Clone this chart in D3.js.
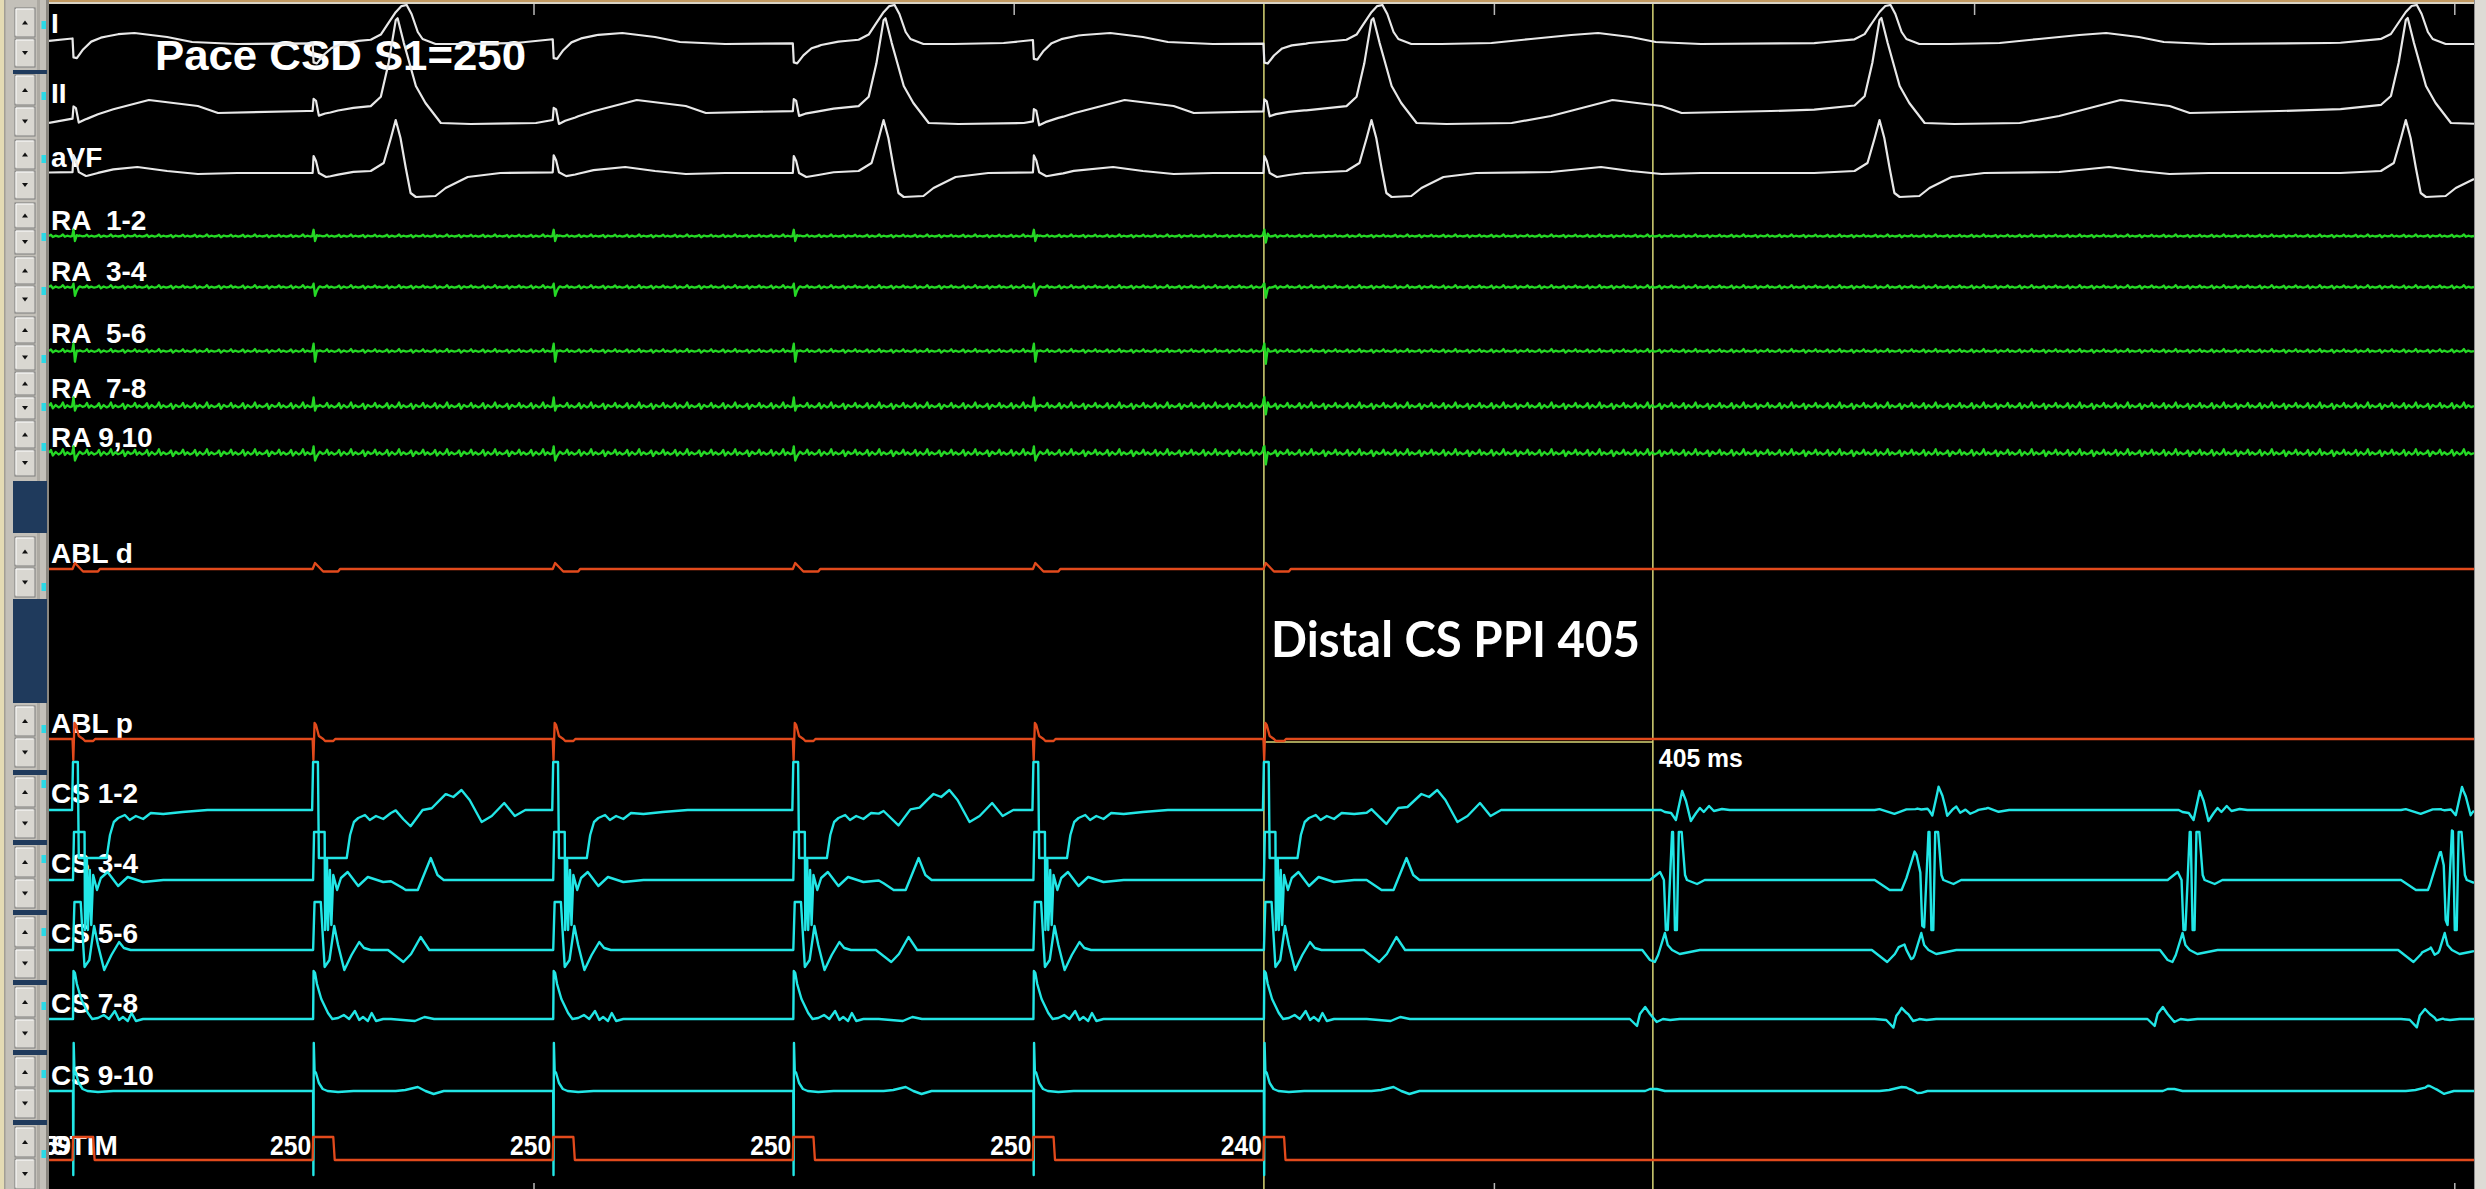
<!DOCTYPE html>
<html>
<head>
<meta charset="utf-8">
<title>Pace CSD S1=250 — Distal CS PPI 405</title>
<script src="https://cdn.jsdelivr.net/npm/d3@7"></script>
<style>
  html, body { margin: 0; padding: 0; background: #000; overflow: hidden; }
  svg { display: block; }
  svg text { white-space: pre; }
</style>
</head>
<body>
<svg id="ep" width="2486" height="1189"></svg>
<script>
// ------------------------------------------------------------------
// Recording data (times in ms, amplitudes in mV at 100 px/mV display gain)
// ------------------------------------------------------------------
const channels = ["I", "II", "aVF", "RA  1-2", "RA  3-4", "RA  5-6", "RA  7-8", "RA 9,10",
                  "ABL d", "ABL p", "CS 1-2", "CS 3-4", "CS 5-6", "CS 7-8", "CS 9-10", "STIM"];

const windowMs = [495, 3020];                 // visible sweep
const firstStim = 520;                        // first S1 pulse
const stimIntervals = [250, 250, 250, 250, 240];
const firstStimLabel = "59";
const qrsTimes = [348, 856, 1364, 1872, 2401, 2949];     // aVF R-peak
const cs12FarFieldGain = [1, 1, 1, 1, 0.3, 0.3];
const tachyTimes = [2188, 2455, 2727, 3000];             // return cycles (CS 3-4 local)
const ppi = 405;
const halfSecondTicks = [1000, 1500, 2000, 2500, 3000];
const secondTicks = [1000, 2000, 3000];

// Surface ECG complexes, relative to the QRS
const leadI_QRS = [[-68,0],[-26,0.03],[-15.5,0.08],[-8.5,0.18],[0,0.30],[6,0.36],[11.5,0.37],[16.5,0.28],[23,0.10],[28,0.03],[41.5,-0.02],[73,-0.02],[125,-0.01],[166,0.03],[208,0.07],[236,0.09],[270,0.05],[296,0],[343,-0.02],[468,-0.01],[520,0]];
const leadII_QRS = [[-68,0],[-26,0.03],[-15.5,0.12],[-7.5,0.45],[0,0.88],[2,0.90],[8.5,0.65],[21,0.22],[31,0.05],[47,-0.15],[78,-0.16],[146,-0.15],[187,-0.08],[251,0.08],[302,0.02],[323,-0.05],[416,-0.03],[520,0]];
const aVF_QRS = [[-68,0],[-26,0.02],[-12.5,0.10],[-5,0.35],[0,0.53],[5,0.35],[10.5,0.05],[15.5,-0.20],[21,-0.24],[41.5,-0.23],[52,-0.15],[75,-0.04],[109,0],[187,0.01],[239,0.06],[270,0.02],[302,-0.01],[343,0]];

// Pacing artefacts, relative to each stimulus
const leadI_pace = [[-0.5,0],[0.5,-0.19],[4,-0.2],[10.5,-0.12],[19,-0.05],[29,-0.02],[47,0]];
const leadII_pace = [[-0.5,0],[0.5,0.12],[3,0.1],[6,-0.05],[12.5,-0.03],[26,-0.01],[42,0]];
const aVF_pace = [[-0.5,0],[0.5,0.17],[3,0.12],[6,0],[13.5,-0.04],[26,-0.02],[42,0]];
const ra12_pace = [[-1,0],[0.5,0.06],[2,-0.06],[4,0.02],[6,0]];
const ra34_pace = [[-1,0],[0.5,0.03],[2,-0.10],[4,-0.02],[6,0]];
const ra56_pace = [[-1,0],[0.5,0.07],[2,-0.12],[4,0.02],[6,0]];
const ra78_pace = [[-1,0],[0.5,0.08],[2,-0.07],[4,0.03],[6,0]];
const ra910_pace = [[-1,0],[0.5,0.06],[2,-0.10],[4,0],[6,0]];
const ablD_pace = [[-0.5,0],[2,0.06],[4,0.04],[8,0],[10.5,-0.025],[26,-0.025],[28,0]];
const ablP_pace = [[-0.5,0],[0.3,-0.21],[1.5,0.16],[3,0.14],[6,0.03],[10.5,0],[12.5,-0.02],[21,-0.02],[23,0]];
const stimPulse = [[-0.5,0],[0,0.23],[21,0.23],[22.5,0]];

// Coronary sinus: paced captures
const cs12_paced = [[-1,0],[0,0.48],[5,0.48],[6,-0.48],[35,-0.48],[38.5,-0.25],[42.5,-0.12],[47,-0.08],[54,-0.05],[59,-0.1],[65.5,-0.06],[73,-0.09],[81,-0.03],[94,-0.04],[114,-0.02],[140,0]];
const cs34_paced = [[-1,0],[0,0],[1,0.48],[12,0.48],[12.5,-0.5],[14.5,0.2],[15.5,-0.5],[17.5,0.1],[19,-0.45],[21,0.05],[25,-0.1],[29,0.02],[36,0.08],[47,-0.06],[57,0.03],[73,-0.02],[94,0]];
const cs56_paced = [[-1,0],[0,0],[1.5,0.48],[8,0.48],[12,-0.17],[17,-0.1],[22,0.24],[26,0.05],[32.5,-0.2],[40,-0.05],[48,0.08],[53,0.02],[60,0]];
const cs78_paced = [[-1,0],[0,0],[0.5,0.48],[2,0.46],[4,0.35],[8.5,0.2],[15.5,0.06],[20,0],[26,0.01],[32,0.04],[37.5,0],[43.5,0.08],[48,-0.01],[52,0.02],[57,-0.02],[61,0.06],[65.5,-0.02],[73,0]];
const cs910_paced = [[-1,0],[0,0],[0.3,-0.84],[0.7,0.48],[1.5,0.2],[3,0.18],[6,0.08],[10,0.02],[15,0],[26,-0.01],[42,0]];

// Coronary sinus: return-cycle electrograms
const cs12_tachy = [[-14.5,0],[-10.5,-0.02],[-4,-0.03],[1,-0.1],[7.5,0.19],[11.5,0.09],[16.5,-0.11],[22,-0.03],[26,0.02],[30,-0.02],[35.5,0.04],[40.5,-0.01],[49,0.01],[57,0]];
const cs34_tachy = [[-26,0],[-15.5,0.08],[-11.5,0],[-9.5,-0.5],[-7.5,-0.5],[-3,0.48],[-2,0.48],[0,-0.5],[2,-0.5],[4,0.48],[7,0.48],[10.5,0.05],[12.5,0],[23,-0.04],[31,0]];
const cs56_tachy = [[-34,0],[-26,-0.1],[-21,-0.12],[-17.5,-0.05],[-10.5,0.17],[-7.5,0.05],[-3,0],[5,-0.04],[15.5,-0.02],[26,0]];
const cs78_tachy = [[-47,0],[-39.5,-0.07],[-36.5,0.05],[-31,0.12],[-26,0.05],[-19,-0.03],[-12.5,0],[-5,-0.01],[5,0]];
const cs910_tachy = [[-31,0],[-26,0.02],[-19,0.02],[-10.5,0]];

// Coronary sinus: ventricular far field, relative to the QRS
const cs12_far = [[-5,0],[0,0.03],[15.5,-0.13],[28,0.02],[37.5,0.03],[52,0.16],[60,0.13],[68.5,0.2],[77,0.1],[89.5,-0.12],[100,-0.06],[113,0.07],[124,-0.06],[135,0]];
const cs34_far = [[-5,0],[10.5,-0.1],[23,-0.1],[36.5,0.22],[43.5,0.05],[50,0]];
const cs56_far = [[-8,0],[0,-0.06],[8,-0.12],[16,-0.04],[26,0.13],[35,0]];
const cs78_far = [[-5,0],[20,-0.02],[30,0.02],[40,0]];
const cs910_far = [[0,0],[10,0.01],[23,0.04],[31,0],[39.5,-0.03],[50,0]];

// Low-level baseline ripple on the RA catheter (one 50 ms cycle)
const rippleShape = [[0,0],[2,0.012],[4,-0.01],[7,0.004],[10,-0.006],[12.5,0],[14.5,0.015],[16.5,-0.008],[19,0.003],[22,-0.005],[25,0],[27,0.01],[29,-0.012],[32,0.005],[35,-0.004],[37.5,0],[39.5,0.013],[41.5,-0.007],[44,0.003],[47,-0.006],[50,0]];
const ripplePeriod = 50;

// ------------------------------------------------------------------
// Derived timing
// ------------------------------------------------------------------
const stimTimes = [firstStim, ...d3.cumsum(stimIntervals).map(v => v + firstStim)];
const stimLabels = [firstStimLabel, ...stimIntervals.map(String)];
const lastStim = stimTimes[stimTimes.length - 1];

// ------------------------------------------------------------------
// Layout
// ------------------------------------------------------------------
const W = 2486, H = 1189;
const plot = { left: 49, right: 2474, top: 4, bottom: 1189 };
const COL = { ecg: "#e8e8e8", ra: "#25d825", abl: "#e24a1c", cs: "#22e6e6" };

const rowLayout = [
  { labelY: 33,   top: 8,    bottom: 67,   base: 42,   dot: 25,   color: COL.ecg, width: 2.2 },
  { labelY: 103,  top: 75,   bottom: 136,  base: 108,  dot: 96,   color: COL.ecg, width: 2.2 },
  { labelY: 167,  top: 140,  bottom: 199,  base: 173,  dot: 159,  color: COL.ecg, width: 2.2 },
  { labelY: 230,  top: 203,  bottom: 254,  base: 236,  dot: 237,  color: COL.ra, width: 2.3, ripple: 1.0 },
  { labelY: 281,  top: 257,  bottom: 313,  base: 287,  dot: 291,  color: COL.ra, width: 2.3, ripple: 1.2 },
  { labelY: 343,  top: 317,  bottom: 370,  base: 351,  dot: 359,  color: COL.ra, width: 2.3, ripple: 1.3 },
  { labelY: 398,  top: 372,  bottom: 419,  base: 406,  dot: 407,  color: COL.ra, width: 2.3, ripple: 2.3 },
  { labelY: 447,  top: 421,  bottom: 476,  base: 453,  dot: 447,  color: COL.ra, width: 2.3, ripple: 2.5 },
  { labelY: 563,  top: 537,  bottom: 597,  base: 569,  dot: 587,  color: COL.abl, width: 2.3 },
  { labelY: 733,  top: 706,  bottom: 767,  base: 739,  dot: 729,  color: COL.abl, width: 2.3 },
  { labelY: 803,  top: 777,  bottom: 838,  base: 810,  dot: 784,  color: COL.cs, width: 2.4 },
  { labelY: 873,  top: 847,  bottom: 908,  base: 880,  dot: 859,  color: COL.cs, width: 2.4 },
  { labelY: 943,  top: 917,  bottom: 978,  base: 950,  dot: 932,  color: COL.cs, width: 2.4 },
  { labelY: 1013, top: 987,  bottom: 1048, base: 1019, dot: 1006, color: COL.cs, width: 2.4 },
  { labelY: 1085, top: 1057, bottom: 1118, base: 1091, dot: 1074, color: COL.cs, width: 2.4 },
  { labelY: 1155, top: 1127, bottom: 1189, base: 1160, dot: 1154, color: COL.abl, width: 2.3 }
];

const navyBars = [[70, 74], [770, 775], [840, 845], [910, 915], [980, 985], [1050, 1055], [1120, 1125], [481, 533], [599, 703]];

// Which waveforms make up each channel
const signalParts = {
  "I":       [{ tpl: leadI_QRS, times: qrsTimes }, { tpl: leadI_pace, times: stimTimes }],
  "II":      [{ tpl: leadII_QRS, times: qrsTimes }, { tpl: leadII_pace, times: stimTimes }],
  "aVF":     [{ tpl: aVF_QRS, times: qrsTimes }, { tpl: aVF_pace, times: stimTimes }],
  "RA  1-2": [{ tpl: ra12_pace, times: stimTimes }],
  "RA  3-4": [{ tpl: ra34_pace, times: stimTimes }],
  "RA  5-6": [{ tpl: ra56_pace, times: stimTimes }],
  "RA  7-8": [{ tpl: ra78_pace, times: stimTimes }],
  "RA 9,10": [{ tpl: ra910_pace, times: stimTimes }],
  "ABL d":   [{ tpl: ablD_pace, times: stimTimes }],
  "ABL p":   [{ tpl: ablP_pace, times: stimTimes }],
  "CS 1-2":  [{ tpl: cs12_paced, times: stimTimes }, { tpl: cs12_tachy, times: tachyTimes }, { tpl: cs12_far, times: qrsTimes, gains: cs12FarFieldGain }],
  "CS 3-4":  [{ tpl: cs34_paced, times: stimTimes }, { tpl: cs34_tachy, times: tachyTimes }, { tpl: cs34_far, times: qrsTimes }],
  "CS 5-6":  [{ tpl: cs56_paced, times: stimTimes }, { tpl: cs56_tachy, times: tachyTimes }, { tpl: cs56_far, times: qrsTimes }],
  "CS 7-8":  [{ tpl: cs78_paced, times: stimTimes }, { tpl: cs78_tachy, times: tachyTimes }, { tpl: cs78_far, times: qrsTimes }],
  "CS 9-10": [{ tpl: cs910_paced, times: stimTimes }, { tpl: cs910_tachy, times: tachyTimes }, { tpl: cs910_far, times: qrsTimes }],
  "STIM":    [{ tpl: stimPulse, times: stimTimes }]
};

// ------------------------------------------------------------------
// Helpers
// ------------------------------------------------------------------
const x = d3.scaleLinear().domain(windowMs).range([plot.left, plot.right]);
const bisectT = d3.bisector(d => d[0]).right;

function tplAt(tpl, dt) {
  if (dt <= tpl[0][0] || dt >= tpl[tpl.length - 1][0]) return 0;
  const i = bisectT(tpl, dt) - 1;
  const a = tpl[i], b = tpl[i + 1];
  return a[1] + (b[1] - a[1]) * (dt - a[0]) / (b[0] - a[0]);
}
function rippleAt(t) {
  const p = ((t - windowMs[0]) % ripplePeriod + ripplePeriod) % ripplePeriod;
  return tplAt(rippleShape, p);
}
function buildTrace(parts, rippleGain) {
  const [t0, t1] = windowMs;
  const ts = new Set([t0, t1]);
  parts.forEach(p => p.times.forEach(T => p.tpl.forEach(q => {
    const t = T + q[0];
    if (t > t0 && t < t1) ts.add(t);
  })));
  if (rippleGain) {
    for (let T = t0; T < t1; T += ripplePeriod)
      rippleShape.forEach(q => { const t = T + q[0]; if (t > t0 && t < t1) ts.add(t); });
  }
  return [...ts].sort((a, b) => a - b).map(t => {
    let v = 0;
    parts.forEach(p => p.times.forEach((T, i) => {
      v += tplAt(p.tpl, t - T) * (p.gains ? p.gains[i] : 1);
    }));
    if (rippleGain) v += rippleGain * rippleAt(t);
    return [t, v];
  });
}

// ------------------------------------------------------------------
// Drawing
// ------------------------------------------------------------------
const svg = d3.select("#ep");
svg.append("rect").attr("width", W).attr("height", H).attr("fill", "#000");

svg.append("defs").append("clipPath").attr("id", "plotClip")
  .append("rect").attr("x", plot.left).attr("y", plot.top)
  .attr("width", plot.right - plot.left).attr("height", plot.bottom - plot.top);

const area = svg.append("g").attr("clip-path", "url(#plotClip)");

// time ticks
area.selectAll("line.tickTop").data(halfSecondTicks).join("line")
  .attr("x1", d => x(d)).attr("x2", d => x(d)).attr("y1", plot.top).attr("y2", plot.top + 11)
  .attr("stroke", "#b8b8b8").attr("stroke-width", 1.5);
area.selectAll("line.tickBot").data(secondTicks).join("line")
  .attr("x1", d => x(d)).attr("x2", d => x(d)).attr("y1", H - 6).attr("y2", H)
  .attr("stroke", "#b8b8b8").attr("stroke-width", 1.5);

// annotation text (traces are drawn over it)
area.append("text").attr("x", 155).attr("y", 70)
  .attr("font-family", "Liberation Sans, Arial, sans-serif").attr("font-weight", "bold")
  .attr("font-size", 42).attr("fill", "#fff")
  .attr("textLength", 371).attr("lengthAdjust", "spacingAndGlyphs")
  .text("Pace CSD S1=250");

area.append("text").attr("x", 1271).attr("y", 657)
  .attr("font-family", "Lato, 'Noto Sans', sans-serif").attr("font-weight", "bold")
  .attr("font-size", 50).attr("fill", "#fff")
  .attr("textLength", 369).attr("lengthAdjust", "spacingAndGlyphs")
  .text("Distal CS PPI " + ppi);

// channel labels
area.selectAll("text.chLabel").data(channels).join("text")
  .attr("x", 51).attr("y", (d, i) => rowLayout[i].labelY)
  .attr("xml:space", "preserve")
  .attr("font-family", "Liberation Sans, Arial, sans-serif").attr("font-weight", "bold")
  .attr("font-size", 28).attr("fill", "#fff")
  .text(d => d);

// stimulus interval labels on the STIM channel
area.selectAll("text.stimLabel").data(stimTimes).join("text")
  .attr("x", d => x(d) - 2).attr("y", 1155)
  .attr("text-anchor", "end")
  .attr("font-family", "Liberation Sans, Arial, sans-serif").attr("font-weight", "bold")
  .attr("font-size", 28).attr("fill", "#fff")
  .attr("textLength", (d, i) => stimLabels[i].length * 13.7).attr("lengthAdjust", "spacingAndGlyphs")
  .text((d, i) => stimLabels[i]);

// PPI calipers
const cursorColor = "#d8d676";
const cur0 = x(lastStim), cur1 = x(lastStim + ppi);
area.selectAll("line.cursor").data([cur0, cur1]).join("line")
  .attr("x1", d => d).attr("x2", d => d).attr("y1", plot.top).attr("y2", H)
  .attr("stroke", cursorColor).attr("stroke-width", 1.5);
area.append("line")
  .attr("x1", cur0).attr("x2", cur1)
  .attr("y1", rowLayout[9].base + 3).attr("y2", rowLayout[9].base + 3)
  .attr("stroke", cursorColor).attr("stroke-width", 1.5);
area.append("text").attr("x", cur1 + 6).attr("y", 767)
  .attr("font-family", "Liberation Sans, Arial, sans-serif").attr("font-weight", "bold")
  .attr("font-size", 25).attr("fill", "#fff")
  .attr("textLength", 84).attr("lengthAdjust", "spacingAndGlyphs")
  .text(ppi + " ms");

// traces
channels.forEach((ch, i) => {
  const L = rowLayout[i];
  const y = d3.scaleLinear().domain([-1, 1]).range([L.base + 100, L.base - 100]);
  const pts = buildTrace(signalParts[ch], L.ripple);
  const line = d3.line().x(d => x(d[0])).y(d => y(d[1]));
  area.append("path").datum(pts)
    .attr("d", line)
    .attr("fill", "none")
    .attr("stroke", L.color)
    .attr("stroke-width", L.width)
    .attr("stroke-linejoin", "round");
});

// ------------------------------------------------------------------
// Frame: top strip, right scroll edge, left channel control panel
// ------------------------------------------------------------------
svg.append("rect").attr("x", 0).attr("y", 0).attr("width", W).attr("height", 2).attr("fill", "#c29a62");
svg.append("rect").attr("x", 0).attr("y", 2).attr("width", W).attr("height", 2).attr("fill", "#d9d4c6");
svg.append("rect").attr("x", plot.right).attr("y", 0).attr("width", W - plot.right).attr("height", H).attr("fill", "#dddbd5");
svg.append("line").attr("x1", plot.right + 0.5).attr("x2", plot.right + 0.5).attr("y1", 0).attr("y2", H)
  .attr("stroke", "#8e8e8e").attr("stroke-width", 1);

const panel = svg.append("g");
panel.append("rect").attr("x", 0).attr("y", 0).attr("width", plot.left).attr("height", H).attr("fill", "#c3c0b9");
panel.append("rect").attr("x", 0).attr("y", 0).attr("width", 4).attr("height", H).attr("fill", "#e4dbb4");
panel.append("rect").attr("x", 4).attr("y", 0).attr("width", 1.5).attr("height", H).attr("fill", "#a29e95");
panel.append("rect").attr("x", 37).attr("y", 0).attr("width", 3).attr("height", H).attr("fill", "#adaaa3");
panel.append("rect").attr("x", 46).attr("y", 0).attr("width", 3).attr("height", H).attr("fill", "#8a8780");

panel.selectAll("rect.navy").data(navyBars).join("rect")
  .attr("x", 13).attr("y", d => d[0]).attr("width", 34).attr("height", d => d[1] - d[0])
  .attr("fill", "#1f3a5c");

function button(g, y0, y1, up) {
  const bx = 15, bw = 20;
  g.append("rect").attr("x", bx).attr("y", y0).attr("width", bw).attr("height", y1 - y0)
    .attr("fill", "#d9d7d1").attr("stroke", "#7c7c7c").attr("stroke-width", 1);
  g.append("path")
    .attr("d", `M${bx + 1},${y1 - 1.5} V${y0 + 1} H${bx + bw - 1.5}`)
    .attr("fill", "none").attr("stroke", "#ffffff").attr("stroke-width", 1);
  const cx = bx + bw / 2, cy = (y0 + y1) / 2;
  const tri = up ? `M${cx - 3},${cy + 2} L${cx + 3},${cy + 2} L${cx},${cy - 2} Z`
                 : `M${cx - 3},${cy - 2} L${cx + 3},${cy - 2} L${cx},${cy + 2} Z`;
  g.append("path").attr("d", tri).attr("fill", "#111");
}
rowLayout.forEach(L => {
  const mid = Math.round((L.top + L.bottom) / 2);
  button(panel, L.top, mid - 1, true);
  button(panel, mid + 1, L.bottom, false);
});
panel.selectAll("rect.dot").data(rowLayout).join("rect")
  .attr("x", 41.5).attr("y", d => d.dot - 4).attr("width", 4.5).attr("height", 8)
  .attr("fill", "#2bd9e6");
</script>
</body>
</html>
